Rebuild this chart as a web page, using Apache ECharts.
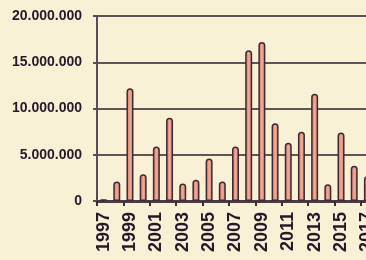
<!DOCTYPE html>
<html>
<head>
<meta charset="utf-8">
<script src="https://cdn.jsdelivr.net/npm/echarts@6/dist/echarts.min.js"></script>
<style>
html,body{margin:0;padding:0;background:#f8f1d6;}
#c{width:366px;height:260px;}
</style>
</head>
<body>
<div id="c"></div>
<script>
var categories = ['1997','1998','1999','2000','2001','2002','2003','2004','2005','2006','2007','2008','2009','2010','2011','2012','2013','2014','2015','2016','2017'];
var values = [200000,2100000,12200000,2900000,5900000,9000000,1900000,2300000,4600000,2100000,5900000,16300000,17200000,8400000,6300000,7500000,11600000,1800000,7400000,3800000,2700000];
var yTicks = [0,5000000,10000000,15000000,20000000];

function fmt(v){
  return String(v).replace(/\B(?=(\d{3})+(?!\d))/g,'.');
}

var chart = echarts.init(document.getElementById('c'));
chart.setOption({
  backgroundColor:'#f8f1d6',
  animation:false,
  grid:{left:97,width:277,top:16,height:185,containLabel:false,outerBoundsMode:'none'},
  xAxis:{
    type:'category',
    data:categories,
    axisLine:{show:true,lineStyle:{color:'#4a3c44',width:3}},
    axisTick:{show:true,length:5,lineStyle:{color:'#3a2c34',width:2}},
    axisLabel:{interval:1,rotate:90,margin:11,fontFamily:'Liberation Sans, Arial',fontWeight:'bold',fontSize:18,color:'#241a2a'}
  },
  yAxis:{
    type:'value',
    min:yTicks[0],max:yTicks[yTicks.length-1],interval:5000000,
    axisLine:{show:true,lineStyle:{color:'#5a4c54',width:2}},
    axisTick:{show:true,length:4,lineStyle:{color:'#5a4c54',width:2}},
    splitLine:{show:true,lineStyle:{color:'#5e5656',width:2}},
    axisLabel:{margin:15,formatter:fmt,fontFamily:'Liberation Sans, Arial',fontWeight:'bold',fontSize:14,color:'#241a2a'}
  },
  series:[{
    type:'bar',
    data:values,
    barWidth:7,
    itemStyle:{
      color:new echarts.graphic.LinearGradient(0,0,1,0,[
        {offset:0,color:'#c4705f'},
        {offset:0.5,color:'#f2ab98'},
        {offset:1,color:'#cf7868'}
      ]),
      borderColor:'#3d2a35',
      borderWidth:1.5,
      borderRadius:[3,3,0,0]
    }
  }]
});
</script>
</body>
</html>
